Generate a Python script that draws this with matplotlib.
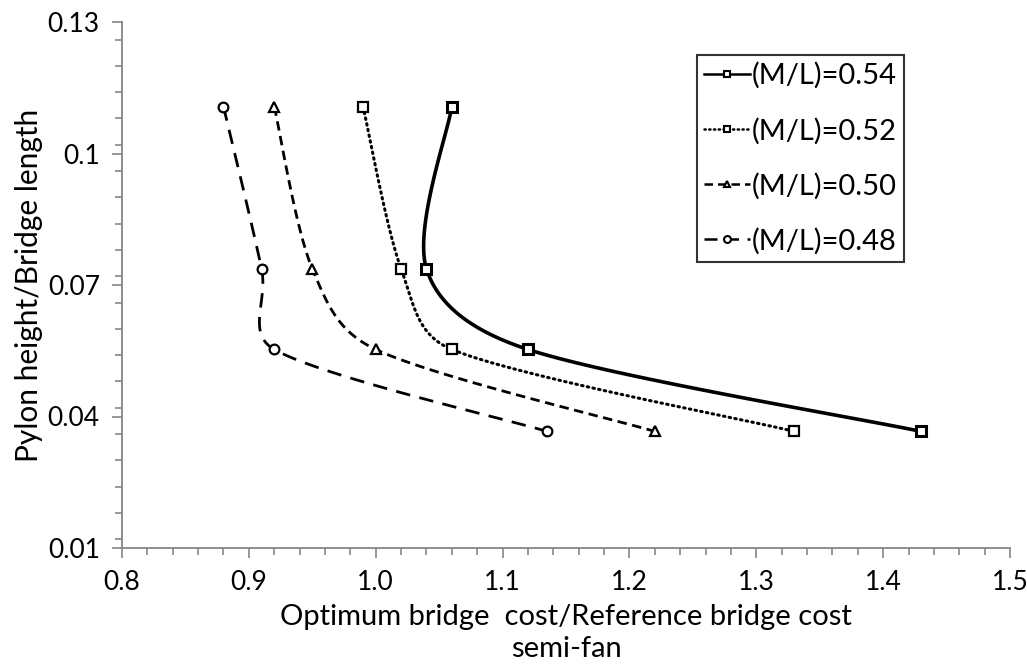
import numpy as np
import matplotlib
matplotlib.use("Agg")
import matplotlib.pyplot as plt
from matplotlib.ticker import MultipleLocator, FixedLocator
from matplotlib.lines import Line2D

plt.rcParams['font.family'] = ['Lato', 'DejaVu Sans']

# ---- data ----
y_vals = [0.1107, 0.0737, 0.0553, 0.0366]
x_054 = [1.06, 1.04, 1.12, 1.43]
x_052 = [0.99, 1.02, 1.06, 1.33]
x_050 = [0.92, 0.95, 1.00, 1.22]
x_048 = [0.88, 0.91, 0.92, 1.135]
labels = ['(M/L)=0.54', '(M/L)=0.52', '(M/L)=0.50', '(M/L)=0.48']
x_ticks = [0.8, 0.9, 1.0, 1.1, 1.2, 1.3, 1.4, 1.5]
y_ticks = [0.01, 0.04, 0.07, 0.1, 0.13]

W, H = 1027, 671
fig = plt.figure(figsize=(W / 100, H / 100), dpi=100)
ax = fig.add_axes([122 / W, (H - 548) / H, (1010 - 122) / W, (548 - 22) / H])
ax.set_xlim(0.8, 1.5)
ax.set_ylim(0.01, 0.13)

axw, axh = 888.0, 526.0


def _cap(v, lim):
    n = np.hypot(*v)
    return v if n <= lim or n == 0 else v * (lim / n)


def smooth(xs, ys, n=40):
    # Excel-like Catmull-Rom smoothing in pixel space
    x0, x1 = ax.get_xlim()
    y0, y1 = ax.get_ylim()
    P = np.column_stack([(np.asarray(xs) - x0) / (x1 - x0) * axw,
                         (np.asarray(ys) - y0) / (y1 - y0) * axh])
    Pe = np.vstack([P[0], P, P[-1]])
    out = []
    t = np.linspace(0, 1, n)[:, None]
    for i in range(len(P) - 1):
        p0, p1, p2, p3 = Pe[i], Pe[i + 1], Pe[i + 2], Pe[i + 3]
        L = np.hypot(*(p2 - p1))
        c1 = p1 + _cap((p2 - p0) / 6.0, L * 0.4)
        c2 = p2 - _cap((p3 - p1) / 6.0, L * 0.4)
        seg = ((1 - t) ** 3) * p1 + 3 * ((1 - t) ** 2) * t * c1 + 3 * (1 - t) * t ** 2 * c2 + t ** 3 * p2
        out.append(seg if i == 0 else seg[1:])
    Q = np.vstack(out)
    return Q[:, 0] / axw * (x1 - x0) + x0, Q[:, 1] / axh * (y1 - y0) + y0


series = [
    (x_054, dict(ls='-', lw=2.6), dict(marker='s', ms=6.5, mew=2.2)),
    (x_052, dict(ls=(0, (0.5, 1.4)), lw=2.2, dash_capstyle='round'), dict(marker='s', ms=6.5, mew=1.6)),
    (x_050, dict(ls=(0, (3.4, 2.0)), lw=2.0), dict(marker='^', ms=7, mew=1.6)),
    (x_048, dict(ls=(0, (5.2, 3.4)), lw=2.0), dict(marker='o', ms=7, mew=1.6)),
]

handles = []
for (xs, lstyle, mstyle), lab in zip(series, labels):
    sx, sy = smooth(xs, y_vals)
    ax.plot(sx, sy, color='black', zorder=2, **lstyle)
    ax.plot(xs, y_vals, ls='none', color='black', mfc='white', mec='black', zorder=3, **mstyle)
    lst = dict(lstyle)
    lst['lw'] = min(lst['lw'], 1.8)
    h = Line2D([], [], color='black', mfc='white', mec='black',
               **lst, marker=mstyle['marker'], ms=5, mew=1.5)
    handles.append(h)

leg = ax.legend(handles, labels, loc='upper left', bbox_to_anchor=((697 - 122) / axw, (548 - 55) / axh),
                frameon=True, fancybox=False, fontsize=21, handlelength=1.55, handletextpad=0.08,
                labelspacing=0.97, borderpad=0.25, borderaxespad=0)
leg.get_frame().set_edgecolor('black')
leg.get_frame().set_linewidth(1.5)

# axes styling
for s in ['top', 'right']:
    ax.spines[s].set_visible(False)
for s in ['left', 'bottom']:
    ax.spines[s].set_color('#868686')
    ax.spines[s].set_linewidth(1.3)

ax.xaxis.set_major_locator(FixedLocator(x_ticks))
ax.yaxis.set_major_locator(FixedLocator(y_ticks))
ax.xaxis.set_minor_locator(MultipleLocator(0.02))
ax.yaxis.set_minor_locator(MultipleLocator(0.006))
ax.set_xticklabels([f"{v:.1f}" for v in x_ticks])
ax.set_yticklabels([f"{v:g}" for v in y_ticks])
ax.tick_params(which='both', direction='out', color='#868686', width=1.2, labelsize=19, colors='#868686',
               labelcolor='black')
ax.tick_params(which='major', length=7, pad=9)
ax.tick_params(which='minor', length=5)

ax.set_xlabel('Optimum bridge  cost/Reference bridge cost\nsemi-fan', fontsize=21, labelpad=6,
              linespacing=1.3)
ax.set_ylabel('Pylon height/Bridge length', fontsize=21.5, labelpad=3)

fig.savefig('out.png', dpi=100)
